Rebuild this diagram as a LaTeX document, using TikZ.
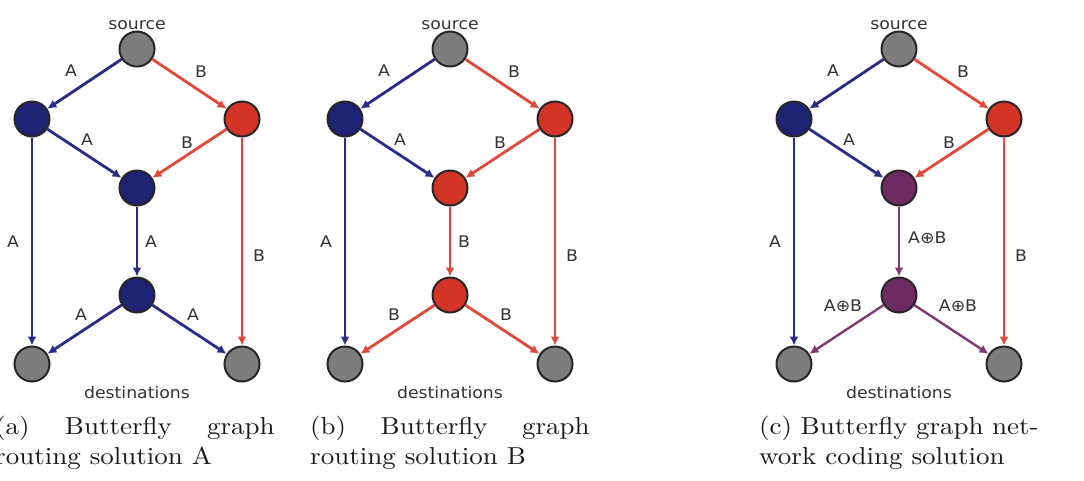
\documentclass[tikz,border=0pt]{standalone}
\usepackage{fontspec}
\usepackage{graphicx}
\newfontfamily\lblfont{DejaVu Sans}
\usetikzlibrary{arrows.meta}
\definecolor{nblue}{RGB}{30,34,115}
\definecolor{nred}{RGB}{212,52,38}
\definecolor{npurp}{RGB}{108,42,98}
\definecolor{ngray}{RGB}{125,125,125}
\definecolor{eblue}{RGB}{42,44,138}
\definecolor{ered}{RGB}{228,72,58}
\definecolor{epurp}{RGB}{128,56,116}
\tikzset{
  nd/.style={circle, draw=black!85, line width=2pt, minimum size=35pt, inner sep=0pt},
  gnd/.style={nd, fill=ngray},
  bnd/.style={nd, fill=nblue},
  rnd/.style={nd, fill=nred},
  pnd/.style={nd, fill=npurp},
  edgeline/.style={line width=2.8pt, -{Latex[length=9pt,width=9pt]}},
  be/.style={edgeline, draw=eblue},
  re/.style={edgeline, draw=ered},
  pe/.style={edgeline, draw=epurp, line width=2.4pt},
  lab/.style={font=\lblfont\fontsize{16}{18}\selectfont, text=black!80, inner sep=0pt},
  toplab/.style={lab, anchor=base},
  capt/.style={anchor=base west, inner sep=0pt, font=\fontsize{10}{12}\selectfont, text=black!90},
}
\newcommand{\sx}[1]{\scalebox{1.08}[1]{#1}}
\newcommand{\cx}[1]{\scalebox{2.7}[2.45]{#1}}
\begin{document}
\begin{tikzpicture}[x=1pt,y=-1pt]
\useasboundingbox (0,0) rectangle (1084,480);

% ---------- panel (a)
\begin{scope}[xshift=137pt]
\node[gnd] (aS) at (0,49) {};
\node[bnd] (aL) at (-105,119) {};
\node[rnd] (aR) at (105,119) {};
\node[bnd] (aM) at (0,188) {};
\node[bnd] (aN) at (0,295) {};
\node[gnd] (aD) at (-105,364) {};
\node[gnd] (aE) at (105,364) {};
\node[toplab] (asrc) at (0,29) {\sx{source}};
\node[toplab] (adst) at (0,398) {\sx{destinations}};
\draw[be] (aS) -- (aL) node[lab] at (-66,71) {\sx{A}};
\draw[re] (aS) -- (aR) node[lab] at (64,72) {\sx{B}};
\draw[be] (aL) -- (aM) node[lab] at (-50,140) {\sx{A}};
\draw[re] (aR) -- (aM) node[lab] at (50,143) {\sx{B}};
\draw[be] (aL) -- (aD) node[lab] at (-124,242) {\sx{A}};
\draw[be] (aM) -- (aN) node[lab] at (14,242) {\sx{A}};
\draw[re] (aR) -- (aE) node[lab] at (122,256) {\sx{B}};
\draw[be] (aN) -- (aD) node[lab] at (-56,315) {\sx{A}};
\draw[be] (aN) -- (aE) node[lab] at (56,315) {\sx{A}};
\end{scope}

% ---------- panel (b)
\begin{scope}[xshift=450pt]
\node[gnd] (bS) at (0,49) {};
\node[bnd] (bL) at (-105,119) {};
\node[rnd] (bR) at (105,119) {};
\node[rnd] (bM) at (0,188) {};
\node[rnd] (bN) at (0,295) {};
\node[gnd] (bD) at (-105,364) {};
\node[gnd] (bE) at (105,364) {};
\node[toplab] (bsrc) at (0,29) {\sx{source}};
\node[toplab] (bdst) at (0,398) {\sx{destinations}};
\draw[be] (bS) -- (bL) node[lab] at (-66,71) {\sx{A}};
\draw[re] (bS) -- (bR) node[lab] at (64,72) {\sx{B}};
\draw[be] (bL) -- (bM) node[lab] at (-50,140) {\sx{A}};
\draw[re] (bR) -- (bM) node[lab] at (50,143) {\sx{B}};
\draw[be] (bL) -- (bD) node[lab] at (-124,242) {\sx{A}};
\draw[re] (bM) -- (bN) node[lab] at (14,242) {\sx{B}};
\draw[re] (bR) -- (bE) node[lab] at (122,256) {\sx{B}};
\draw[re] (bN) -- (bD) node[lab] at (-56,315) {\sx{B}};
\draw[re] (bN) -- (bE) node[lab] at (56,315) {\sx{B}};
\end{scope}

% ---------- panel (c)
\begin{scope}[xshift=899pt]
\node[gnd] (cS) at (0,49) {};
\node[bnd] (cL) at (-105,119) {};
\node[rnd] (cR) at (105,119) {};
\node[pnd] (cM) at (0,188) {};
\node[pnd] (cN) at (0,295) {};
\node[gnd] (cD) at (-105,364) {};
\node[gnd] (cE) at (105,364) {};
\node[toplab] (csrc) at (0,29) {\sx{source}};
\node[toplab] (cdst) at (0,398) {\sx{destinations}};
\draw[be] (cS) -- (cL) node[lab] at (-66,71) {\sx{A}};
\draw[re] (cS) -- (cR) node[lab] at (64,72) {\sx{B}};
\draw[be] (cL) -- (cM) node[lab] at (-50,140) {\sx{A}};
\draw[re] (cR) -- (cM) node[lab] at (50,143) {\sx{B}};
\draw[be] (cL) -- (cD) node[lab] at (-124,242) {\sx{A}};
\draw[pe] (cM) -- (cN) node[lab, anchor=west] at (8,238) {\sx{A⊕B}};
\draw[re] (cR) -- (cE) node[lab] at (122,256) {\sx{B}};
\draw[pe] (cN) -- (cD) node[lab] at (-56,306) {\sx{A⊕B}};
\draw[pe] (cN) -- (cE) node[lab] at (59,306) {\sx{A⊕B}};
\end{scope}

% ---------- captions
\node[capt] (capa1) at (-5,434) {\cx{\hbox to 103.5pt{(a) Butterfly graph}}};
\node[capt] (capa2) at (-5,464) {\cx{routing solution A}};
\node[capt] (capb1) at (310,434) {\cx{\hbox to 103.5pt{(b) Butterfly graph}}};
\node[capt] (capb2) at (310,464) {\cx{routing solution B}};
\node[capt] (capc1) at (759,434) {\cx{\hbox to 103.5pt{(c) Butterfly graph net-}}};
\node[capt] (capc2) at (759,464) {\cx{work coding solution}};
\end{tikzpicture}
\end{document}
